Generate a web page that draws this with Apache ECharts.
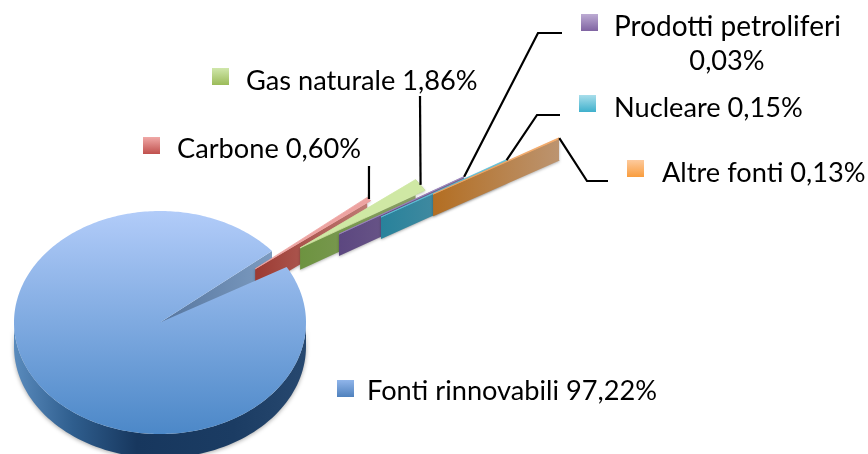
<!DOCTYPE html>
<html>
<head>
<meta charset="utf-8">
<title>Fonti</title>
<script src="https://cdn.jsdelivr.net/npm/echarts@6/dist/echarts.min.js"></script>
<style>
  html, body { margin: 0; padding: 0; background: #fff; }
  #chart { width: 868px; height: 454px; }
</style>
</head>
<body>
<div id="chart"></div>
<script>
// data
const categories = ['Fonti rinnovabili', 'Carbone', 'Gas naturale', 'Prodotti petroliferi', 'Nucleare', 'Altre fonti']
const shares = [97.22, 0.60, 1.86, 0.03, 0.15, 0.13]

// pie layout, in page pixels
const center = [160, 322.5]
const radiusX = 146
const radiusY = 111.5
const depth = 22
const firstAngle = 39.9 // where the big slice starts, going counter-clockwise from east

// how far each slice is pulled out, index matches categories
const explodeDist = [0, 0.81, 1.17, 1.46, 1.785, 2.196]
const explodeDir = [0, 36.4, 34.9, 32.9, 32, 31.6]

const topColors = ['#7fa8e0', '#eda3a1', '#cfe8a4', '#9a84bd', '#5ec0d8', '#f2a765']
const wallFrom = ['#17375e', '#9c3a32', '#6d9340', '#5c4780', '#28829b', '#b36e22']
const wallTo = ['#2f5078', '#c07d76', '#8da06a', '#7b6b92', '#5f93a6', '#bc9470']
const keyColors = [
  ['#90b5ea', '#4f81bd'], ['#f0a9a7', '#c0504d'], ['#d0e7ab', '#9bbb59'],
  ['#bcabd3', '#8064a2'], ['#a8deeb', '#3fb0cc'], ['#fdca9d', '#f99d3e']
]

// label layout: key box corner, text centre, leader elbows
const keyPos = [[337, 380], [143, 137], [212, 68], [581, 14], [579, 95], [627, 160]]
const textPos = [[367, 391], [177, 149], [246, 81], [614, 27], [614, 108], [662, 173]]
const leaderPath = [
  [],
  [[369, 166]],
  [[420, 96]],
  [[538, 33], [562, 33]],
  [[537, 115], [560, 115]],
  [[587, 181], [608, 181]]
]

function shareText(v) {
  return v.toFixed(2).replace('.', ',') + '%'
}

// angle range of every slice, the big one first and the others clockwise from its start
function sliceAngles() {
  const list = []
  let a = firstAngle
  shares.forEach((v, i) => {
    const sweep = v * 3.6
    if (i === 0) {
      list.push([a, a + sweep])
    } else {
      list.push([a - sweep, a])
      a -= sweep
    }
  })
  return list
}
const angles = sliceAngles()

function linear(a, b, vertical) {
  return new echarts.graphic.LinearGradient(0, 0, vertical ? 0 : 1, vertical ? 1 : 0, [
    { offset: 0, color: a },
    { offset: 1, color: b }
  ])
}

function renderSlice(params, api) {
  const i = params.dataIndex
  const rad = d => d * Math.PI / 180
  const off = [
    radiusX * explodeDist[i] * Math.cos(rad(explodeDir[i])),
    -radiusY * explodeDist[i] * Math.sin(rad(explodeDir[i]))
  ]
  const apex = (dy) => api.coord([center[0] + off[0], center[1] + off[1] + dy])
  const rim = (deg, dy) => api.coord([
    center[0] + off[0] + radiusX * Math.cos(rad(deg)),
    center[1] + off[1] - radiusY * Math.sin(rad(deg)) + dy
  ])
  const [lo, hi] = angles[i]

  if (i === 0) {
    // big slice: outer wall, the wall seen through the gap, then the top face
    const front = []
    for (let d = 180; d <= 360; d += 2) front.push(rim(d, 0))
    for (let d = 360; d >= 180; d -= 2) front.push(rim(d, depth + 2))
    const top = [apex(0)]
    for (let d = lo; d < hi; d += 1) top.push(rim(d, 0))
    top.push(rim(hi, 0))
    return {
      type: 'group',
      children: [
        {
          type: 'polygon', z2: 1, shape: { points: front },
          style: {
            fill: new echarts.graphic.LinearGradient(0, 0, 1, 0, [
              { offset: 0, color: '#5a8bbd' },
              { offset: 0.2, color: '#2f5e8e' },
              { offset: 0.42, color: '#17375e' },
              { offset: 0.75, color: '#1b3c63' },
              { offset: 1, color: '#27486f' }
            ]),
            shadowColor: 'rgba(0,0,0,0.35)', shadowBlur: 4, shadowOffsetY: 1
          }
        },
        {
          type: 'polygon', z2: 1,
          shape: { points: [apex(0), rim(lo, 0), rim(lo, depth), apex(depth)] },
          style: { fill: linear('#56769f', '#7c9bc0') }
        },
        {
          type: 'polygon', z2: 5, shape: { points: top },
          style: { fill: linear('#b2ccf9', '#4c88c8', true) }
        }
      ]
    }
  }

  // small slices: side wall and rim first, then the thin top face
  const z = i === 1 ? 2 : 5 + i * 2
  const wall = [apex(0), rim(lo, 0), rim(hi, 0), rim(hi, depth), rim(lo, depth), apex(depth)]
  return {
    type: 'group',
    children: [
      {
        type: 'polygon', z2: z, shape: { points: wall },
        style: {
          fill: linear(wallFrom[i], wallTo[i]),
          shadowColor: 'rgba(0,0,0,0.3)', shadowBlur: 3, shadowOffsetY: 1
        }
      },
      {
        type: 'polygon', z2: z + 1, shape: { points: [apex(0), rim(lo, 0), rim(hi, 0)] },
        style: { fill: topColors[i], stroke: topColors[i], lineWidth: 0.8 }
      }
    ]
  }
}

function renderLabel(params, api) {
  const i = params.dataIndex
  const key = api.coord(keyPos[i])
  const txt = api.coord(textPos[i])
  const children = [
    {
      type: 'rect',
      shape: { x: key[0], y: key[1], width: 17, height: 17 },
      style: { fill: linear(keyColors[i][0], keyColors[i][1], true) }
    }
  ]
  if (i === 3) {
    // this label wraps on two centred lines
    children.push({
      type: 'text',
      style: { x: txt[0], y: txt[1], text: categories[i], fill: '#000', font: '28px Lato', textVerticalAlign: 'middle' }
    })
    children.push({
      type: 'text',
      style: { x: 727, y: 61, text: shareText(shares[i]), fill: '#000', font: labelFont, textAlign: 'center', textVerticalAlign: 'middle' }
    })
  } else {
    children.push({
      type: 'text',
      style: { x: txt[0], y: txt[1], text: categories[i] + ' ' + shareText(shares[i]), fill: '#000', font: labelFont, textVerticalAlign: 'middle' }
    })
  }
  if (leaderPath[i].length) {
    const rad = d => d * Math.PI / 180
    const mid = (angles[i][0] + angles[i][1]) / 2
    const ox = radiusX * explodeDist[i] * Math.cos(rad(explodeDir[i]))
    const oy = -radiusY * explodeDist[i] * Math.sin(rad(explodeDir[i]))
    const start = [
      center[0] + ox + radiusX * Math.cos(rad(mid)),
      center[1] + oy - radiusY * Math.sin(rad(mid))
    ]
    children.push({
      type: 'polyline',
      shape: { points: [start].concat(leaderPath[i]).map(p => api.coord(p)) },
      style: { stroke: '#000', lineWidth: 2.2, fill: null }
    })
  }
  return { type: 'group', children }
}

const labelFont = '27.2px Lato'
const chart = echarts.init(document.getElementById('chart'))
const rows = categories.map((name, i) => [i, shares[i], name])

chart.setOption({
  animation: false,
  backgroundColor: '#fff',
  grid: { left: 0, right: 0, top: 0, bottom: 0 },
  xAxis: { type: 'value', min: 0, max: 868, show: false },
  yAxis: { type: 'value', min: 0, max: 454, inverse: true, show: false },
  series: [
    { type: 'custom', coordinateSystem: 'cartesian2d', clip: false, data: rows, renderItem: renderSlice, z: 2 },
    { type: 'custom', coordinateSystem: 'cartesian2d', clip: false, data: rows, renderItem: renderLabel, z: 3 }
  ]
})

window.addEventListener('resize', () => chart.resize())
</script>
</body>
</html>
